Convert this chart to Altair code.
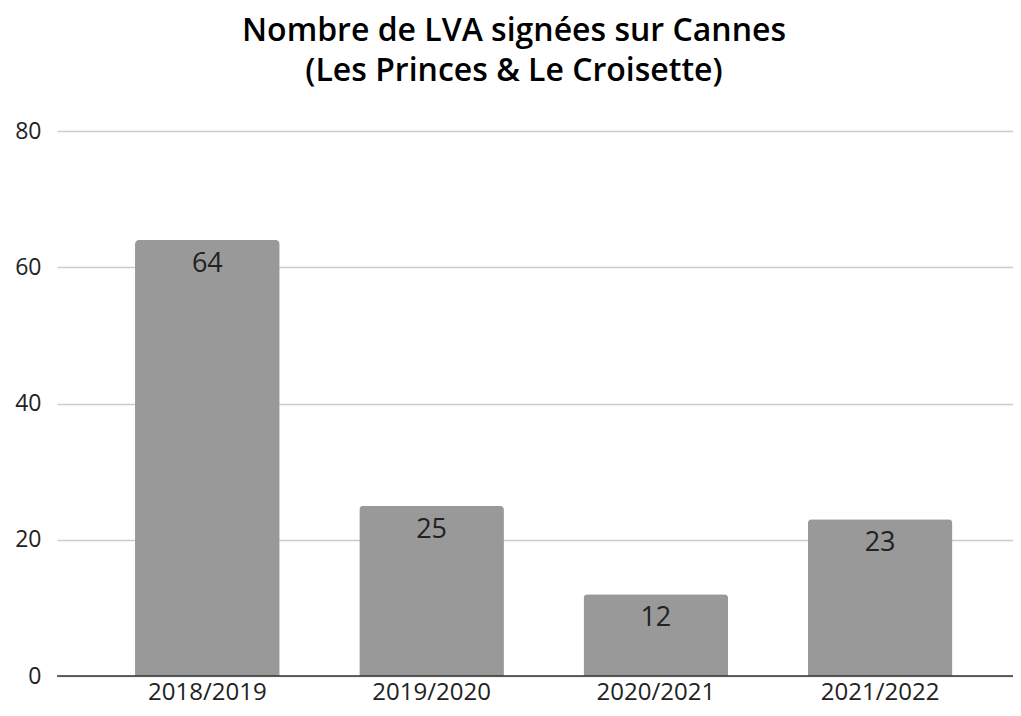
import altair as alt
import pandas as pd

seasons = ["2018/2019", "2019/2020", "2020/2021", "2021/2022"]
counts = [64, 25, 12, 23]
y_ticks = [0, 20, 40, 60, 80]

df = pd.DataFrame({"season": seasons, "count": counts})

FONT = "Open Sans"

x = alt.X("season:N", sort=seasons, title=None,
          scale=alt.Scale(paddingInner=0.355, paddingOuter=0.309, align=0.563),
          axis=alt.Axis(labelAngle=0, labelFontSize=24, labelColor="#222222",
                        labelFont=FONT, ticks=False, domain=False, labelPadding=4))
y = alt.Y("count:Q", title=None,
          scale=alt.Scale(domain=[0, 80], nice=False),
          axis=alt.Axis(values=y_ticks, labelFontSize=23, labelColor="#222222",
                        labelFont=FONT, ticks=False, domain=False, labelPadding=16,
                        gridColor="#cccccc", gridWidth=1.5))

bars = alt.Chart(df).mark_bar(color="#999999", cornerRadiusTopLeft=4,
                              cornerRadiusTopRight=4).encode(x=x, y=y)

labels = alt.Chart(df).mark_text(baseline="middle", dy=24, fontSize=27,
                                 color="#222222", font=FONT).encode(
    x=alt.X("season:N", sort=seasons),
    y=alt.Y("count:Q"),
    text=alt.Text("count:Q"))

zero = alt.Chart(pd.DataFrame({"v": [0]})).mark_rule(color="#333333", strokeWidth=1.5).encode(
    y=alt.Y("v:Q"))

chart = alt.layer(bars, labels, zero).properties(
    width=956, height=545,
    autosize=alt.AutoSizeParams(type="none"),
    padding={"left": 49, "top": 123, "right": 0, "bottom": 32},
    title=alt.TitleParams(
        text=["Nombre de LVA signées sur Cannes", "(Les Princes & Le Croisette)"],
        fontSize=32, fontWeight=600, font=FONT, color="#000000",
        anchor="middle", dx=-21, offset=32, lineHeight=40),
).configure_view(stroke=None)

chart.save("out.html", embed_options={"renderer": "svg", "actions": False})
